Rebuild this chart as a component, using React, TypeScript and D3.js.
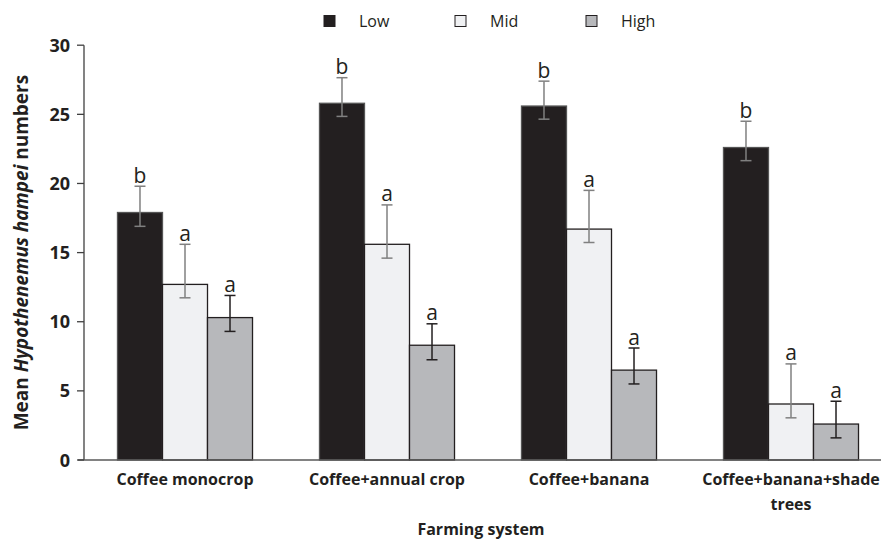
import React from "react";
import * as d3 from "d3";

const categories = ["Coffee monocrop", "Coffee+annual crop", "Coffee+banana", "Coffee+banana+shade trees"];
const series = ["Low", "Mid", "High"];
const lowValues = [17.9, 25.8, 25.6, 22.6];
const midValues = [12.7, 15.6, 16.7, 4.05];
const highValues = [10.3, 8.3, 6.5, 2.6];
const lowErrUp = [1.9, 1.85, 1.8, 1.9];
const midErrUp = [2.9, 2.85, 2.8, 2.9];
const highErrUp = [1.6, 1.55, 1.6, 1.65];
const lowErrDown = [1.0, 0.95, 0.95, 0.95];
const midErrDown = [0.97, 1.0, 0.97, 1.0];
const highErrDown = [1.0, 1.05, 1.0, 1.0];
const lowLetters = ["b", "b", "b", "b"];
const midLetters = ["a", "a", "a", "a"];
const highLetters = ["a", "a", "a", "a"];
const yTicks = [0, 5, 10, 15, 20, 25, 30];

const fills = ["#231f20", "#f0f1f3", "#b7b8bb"];
const errColors = ["#808080", "#808080", "#231f20"];
const FONT = "'Open Sans', 'Noto Sans', sans-serif";

export default function App() {
  const W = 881, H = 542;
  const x0 = d3.scaleBand<string>().domain(categories).range([84, 892]).paddingInner(0).paddingOuter(0);
  const x1 = d3.scaleBand<string>().domain(series).range([0, x0.bandwidth()]).paddingInner(0).paddingOuter(0.744);
  const y = d3.scaleLinear().domain([0, 30]).range([460, 45.2]);
  const vals = [lowValues, midValues, highValues];
  const ups = [lowErrUp, midErrUp, highErrUp];
  const downs = [lowErrDown, midErrDown, highErrDown];
  const letters = [lowLetters, midLetters, highLetters];

  return (
    <svg width={W} height={H} style={{ position: "absolute", left: 0, top: 0, background: "#fff" }} fontFamily={FONT}>
      {/* legend */}
      {series.map((s, i) => (
        <g key={s} transform={`translate(${324 + i * 131},0)`}>
          <rect x={0} y={15.5} width={11} height={11} fill={fills[i]} stroke="#231f20" strokeWidth={1} />
          <text x={35} y={27} fontSize={16} fill="#231f20">{s}</text>
        </g>
      ))}
      {/* bars */}
      {categories.map((c, ci) => (
        <g key={c} transform={`translate(${x0(c)},0)`}>
          {series.map((s, si) => {
            const v = vals[si][ci];
            const bx = x1(s)!;
            const bw = x1.bandwidth();
            const cx = bx + bw / 2;
            const yt = y(v + ups[si][ci]);
            const yb = y(v - downs[si][ci]);
            return (
              <g key={s}>
                <rect x={bx} y={y(v)} width={bw} height={y(0) - y(v)} fill={fills[si]} stroke={si === 0 ? "#555" : "#231f20"} strokeWidth={1.3} />
                <line x1={cx} x2={cx} y1={yt} y2={yb} stroke={errColors[si]} strokeWidth={1.5} />
                <line x1={cx - 5.5} x2={cx + 5.5} y1={yt} y2={yt} stroke={errColors[si]} strokeWidth={1.5} />
                <line x1={cx - 5.5} x2={cx + 5.5} y1={yb} y2={yb} stroke={errColors[si]} strokeWidth={1.5} />
                <text x={cx} y={yt - 3.5} textAnchor="middle" fontSize={21} fill="#231f20">{letters[si][ci]}</text>
              </g>
            );
          })}
        </g>
      ))}
      {/* axes */}
      <line x1={84} x2={84} y1={y(30)} y2={y(0)} stroke="#404040" strokeWidth={1.3} />
      <line x1={78} x2={881} y1={y(0)} y2={y(0)} stroke="#595959" strokeWidth={1.3} />
      {yTicks.map((t) => (
        <g key={t}>
          <line x1={77} x2={84} y1={y(t)} y2={y(t)} stroke="#404040" strokeWidth={1.3} />
          <text x={70} y={y(t) + 6.5} textAnchor="end" fontSize={18} fontWeight="bold" fill="#231f20">{t}</text>
        </g>
      ))}
      {categories.map((c) => {
        const cx = x0(c)! + x0.bandwidth() / 2;
        const parts = c === "Coffee+banana+shade trees" ? ["Coffee+banana+shade", "trees"] : [c];
        return (
          <text key={c} x={cx} y={485} textAnchor="middle" fontSize={16} fontWeight="bold" fill="#231f20">
            {parts.map((p, i) => (
              <tspan key={i} x={cx} dy={i === 0 ? 0 : 25}>{p}</tspan>
            ))}
          </text>
        );
      })}
      <text x={481} y={535} textAnchor="middle" fontSize={16} fontWeight="bold" fill="#231f20">Farming system</text>
      <text transform={`translate(28,${y(15)}) rotate(-90)`} textAnchor="middle" fontSize={19} fontWeight="bold" fill="#231f20">
        Mean <tspan fontStyle="italic">Hypothenemus hampei</tspan> numbers
      </text>
    </svg>
  );
}
